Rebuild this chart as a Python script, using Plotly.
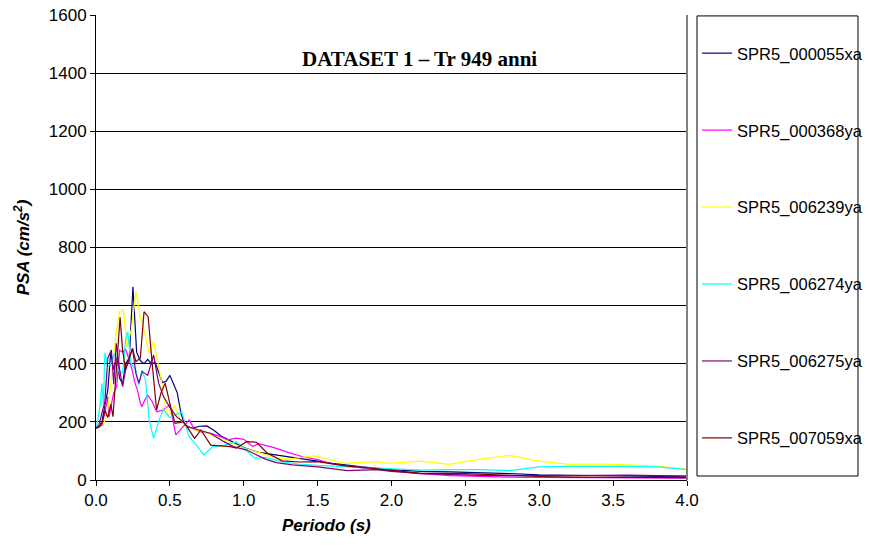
import plotly.graph_objects as go

names = ["SPR5_000055xa", "SPR5_000368ya", "SPR5_006239ya",
         "SPR5_006274ya", "SPR5_006275ya", "SPR5_007059xa"]
colors = ["#000080", "#FF00FF", "#FFFF00", "#00FFFF", "#800080", "#800000"]

t_055 = [0, 0.02, 0.04, 0.06, 0.08, 0.10, 0.12, 0.14, 0.16, 0.18, 0.20, 0.225, 0.25, 0.275,
         0.30, 0.325, 0.35, 0.375, 0.40, 0.425, 0.45, 0.475, 0.50, 0.525, 0.55, 0.575, 0.60,
         0.65, 0.70, 0.75, 0.80, 0.85, 0.90, 0.95, 1.0, 1.1, 1.2, 1.3, 1.4, 1.5, 1.6, 1.8,
         2.0, 2.2, 2.4, 2.6, 2.8, 3.0, 3.2, 3.4, 3.6, 3.8, 4.0]
v_055 = [178, 185, 200, 260, 310, 440, 380, 420, 350, 330, 400, 420, 665, 440,
         410, 400, 415, 400, 405, 370, 335, 340, 360, 330, 300, 230, 190,
         178, 185, 186, 170, 150, 138, 125, 112, 95, 88, 80, 72, 65, 57, 45,
         36, 30, 28, 26, 22, 18, 16, 14, 13, 12, 11]

t_368 = [0, 0.02, 0.04, 0.06, 0.08, 0.09, 0.10, 0.12, 0.14, 0.16, 0.18, 0.20, 0.22, 0.245,
         0.26, 0.28, 0.30, 0.31, 0.33, 0.35, 0.38, 0.41, 0.45, 0.50, 0.54, 0.59, 0.63, 0.67,
         0.72, 0.78, 0.84, 0.89, 0.95, 1.0, 1.06, 1.1, 1.2, 1.3, 1.4, 1.5, 1.6, 1.8, 2.0,
         2.2, 2.4, 2.6, 2.8, 3.0, 3.2, 3.4, 3.6, 3.8, 4.0]
v_368 = [178, 182, 195, 230, 287, 218, 250, 300, 321, 447, 440, 450, 420, 378,
         340, 310, 265, 252, 275, 292, 270, 235, 240, 258, 155, 183, 206, 172,
         165, 160, 150, 138, 144, 140, 115, 125, 112, 95, 80, 70, 55, 42, 32,
         22, 15, 12, 10, 9, 8, 7, 7, 6, 6]

t_239 = [0, 0.02, 0.05, 0.08, 0.10, 0.12, 0.137, 0.16, 0.185, 0.21, 0.24, 0.27, 0.30, 0.325,
         0.36, 0.39, 0.41, 0.44, 0.47, 0.49, 0.53, 0.57, 0.62, 0.68, 0.74, 0.80, 0.84, 0.90,
         0.95, 1.0, 1.1, 1.22, 1.3, 1.48, 1.68, 1.9, 1.98, 2.2, 2.39, 2.6, 2.8, 3.0, 3.2,
         3.4, 3.6, 3.8, 3.95, 4.0]
v_239 = [178, 182, 189, 241, 333, 420, 510, 580, 587, 459, 520, 648, 560, 516,
         437, 476, 424, 350, 252, 218, 258, 206, 183, 170, 165, 150, 143, 130,
         120, 110, 95, 75, 72, 83, 57, 63, 57, 65, 54, 72, 85, 65, 54,
         55, 52, 48, 40, 38]

t_274 = [0, 0.02, 0.03, 0.04, 0.05, 0.06, 0.08, 0.10, 0.126, 0.15, 0.18, 0.20, 0.215, 0.236,
         0.27, 0.29, 0.31, 0.335, 0.36, 0.39, 0.435, 0.457, 0.50, 0.54, 0.58, 0.63, 0.68,
         0.73, 0.79, 0.87, 0.95, 1.0, 1.075, 1.15, 1.25, 1.37, 1.5, 1.7, 1.9, 2.2, 2.39,
         2.6, 2.8, 3.0, 3.2, 3.4, 3.6, 3.8, 3.95, 4.0]
v_274 = [178, 230, 270, 333, 262, 438, 390, 400, 436, 378, 367, 482, 510, 402,
         378, 327, 378, 344, 206, 143, 218, 241, 215, 225, 235, 149, 120,
         86, 115, 120, 132, 110, 75, 78, 63, 55, 50, 45, 40, 34, 36,
         36, 32, 45, 47, 48, 47, 45, 38, 36]

t_275 = [0, 0.02, 0.04, 0.06, 0.08, 0.104, 0.12, 0.137, 0.16, 0.18, 0.20, 0.225, 0.247, 0.27,
         0.29, 0.313, 0.35, 0.39, 0.424, 0.457, 0.50, 0.545, 0.58, 0.62, 0.69, 0.777, 0.865,
         0.93, 1.02, 1.15, 1.22, 1.33, 1.5, 1.7, 1.9, 2.0, 2.2, 2.4, 2.6, 2.8, 3.0, 3.2,
         3.4, 3.6, 3.8, 4.0]
v_275 = [178, 190, 230, 270, 419, 447, 330, 470, 380, 321, 378, 420, 453, 367,
         333, 373, 360, 430, 333, 287, 250, 218, 205, 183, 172, 160, 132,
         115, 103, 71, 60, 52, 45, 32, 36, 30, 22, 18, 16, 15, 14, 15,
         16, 17, 15, 14]

t_059 = [0, 0.02, 0.04, 0.06, 0.08, 0.10, 0.115, 0.14, 0.163, 0.18, 0.20, 0.225, 0.247, 0.27,
         0.30, 0.325, 0.353, 0.38, 0.41, 0.44, 0.468, 0.51, 0.535, 0.59, 0.62, 0.667, 0.71,
         0.777, 0.84, 0.91, 0.95, 1.02, 1.086, 1.16, 1.26, 1.38, 1.5, 1.7, 1.84, 2.0, 2.2,
         2.46, 2.6, 2.8, 3.0, 3.2, 3.4, 3.6, 3.8, 4.0]
v_059 = [178, 182, 190, 240, 215, 260, 218, 400, 560, 447, 380, 420, 453, 407,
         420, 579, 562, 401, 241, 300, 333, 241, 195, 200, 180, 143, 172,
         120, 118, 115, 110, 132, 130, 92, 66, 62, 63, 48, 42, 34, 23,
         23, 20, 15, 12, 10, 9, 9, 8, 8]

periods = [t_055, t_368, t_239, t_274, t_275, t_059]
values = [v_055, v_368, v_239, v_274, v_275, v_059]

x_ticks = [0.0, 0.5, 1.0, 1.5, 2.0, 2.5, 3.0, 3.5, 4.0]
y_ticks = [0, 200, 400, 600, 800, 1000, 1200, 1400, 1600]

fig = go.Figure()
for n, c, t, v in zip(names, colors, periods, values):
    fig.add_trace(go.Scatter(x=t, y=v, mode="lines", name=n, legendgroup=n,
                             line=dict(color=c, width=1.2)))

fig.update_layout(
    width=870, height=550,
    margin=dict(l=96, r=183, t=15, b=70, autoexpand=False),
    paper_bgcolor="white", plot_bgcolor="white",
    font=dict(family="Liberation Sans, Arial", size=17, color="black"),
    showlegend=True,
    legend=dict(x=1.017, xanchor="left", y=0.955, yanchor="top",
                font=dict(size=16.5), tracegroupgap=52.5,
                bgcolor="rgba(0,0,0,0)", borderwidth=0),
    xaxis=dict(range=[0, 4], tickvals=x_ticks, ticktext=[f"{v:.1f}" for v in x_ticks],
               showgrid=False, zeroline=False, showline=True, linecolor="black",
               linewidth=1, ticks="outside", ticklen=5, tickcolor="black"),
    yaxis=dict(range=[0, 1600], tickvals=y_ticks, showgrid=True, gridcolor="black",
               gridwidth=1, zeroline=False, showline=True, linecolor="black",
               linewidth=1, ticks="outside", ticklen=5, tickcolor="black",
               title=dict(text="PSA (cm/s<sup>2</sup>)", standoff=14,
                          font=dict(size=17, weight="bold", style="italic"))),
    shapes=[
        dict(type="line", xref="paper", yref="paper", x0=1, x1=1, y0=0, y1=1,
             line=dict(color="#808080", width=2)),
        dict(type="rect", xref="paper", yref="paper", x0=1.0169, x1=1.2893,
             y0=0.0086, y1=0.998, line=dict(color="black", width=1)),
    ],
    annotations=[
        dict(text="<b>DATASET 1 – Tr 949 anni</b>", xref="paper", yref="paper",
             x=0.548, y=0.935, showarrow=False,
             font=dict(family="Liberation Serif, Times New Roman", size=21)),
        dict(text="Periodo (s)", xref="paper", yref="paper", x=0.311, y=-0.097,
             showarrow=False, yanchor="middle",
             font=dict(size=17, weight="bold", style="italic")),
    ],
)

fig.write_html("out.html")
